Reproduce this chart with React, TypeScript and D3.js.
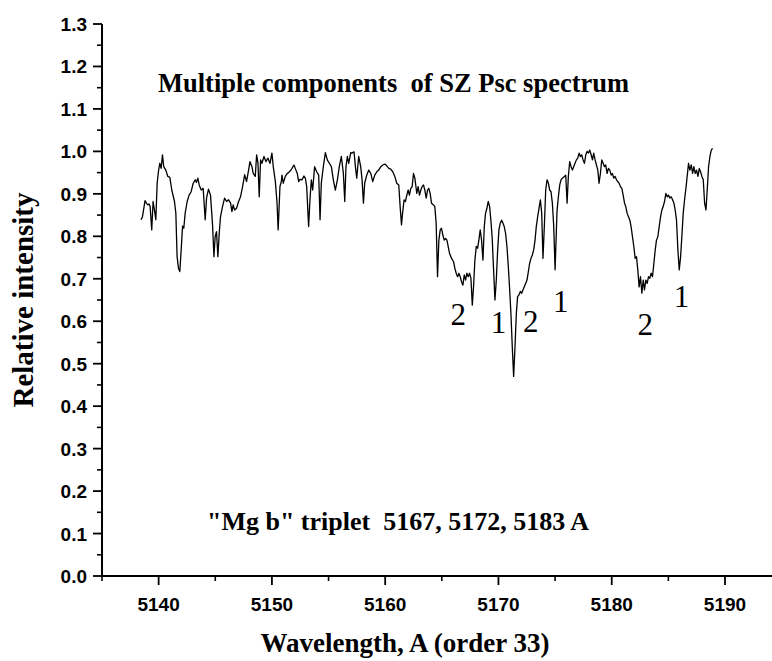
import React from "react";
import * as d3 from "d3";

const WAVELENGTH: number[] = [
  5138.45, 5138.57, 5138.80, 5138.92, 5139.04, 5139.16, 5139.25, 5139.39, 5139.51, 5139.63,
  5139.75, 5139.87, 5139.98, 5140.10, 5140.22, 5140.34, 5140.45, 5140.63, 5140.81, 5140.99,
  5141.16, 5141.40, 5141.52, 5141.63, 5141.75, 5141.87, 5141.99, 5142.11, 5142.22, 5142.34,
  5142.52, 5142.69, 5142.87, 5143.05, 5143.23, 5143.34, 5143.46, 5143.58, 5143.76, 5143.93,
  5144.11, 5144.23, 5144.40, 5144.58, 5144.76, 5144.88, 5144.99, 5145.11, 5145.23, 5145.35,
  5145.46, 5145.64, 5145.82, 5146.00, 5146.17, 5146.35, 5146.47, 5146.58, 5146.70, 5146.88,
  5147.06, 5147.23, 5147.41, 5147.59, 5147.76, 5147.94, 5148.06, 5148.24, 5148.35, 5148.53,
  5148.65, 5148.77, 5148.88, 5149.00, 5149.12, 5149.30, 5149.47, 5149.65, 5149.83, 5150.00,
  5150.12, 5150.30, 5150.45, 5150.55, 5150.71,
  5150.83, 5150.89, 5151.00, 5151.18, 5151.36, 5151.47, 5151.65, 5151.77, 5151.95, 5152.06,
  5152.24, 5152.36, 5152.48, 5152.65, 5152.83, 5152.95, 5153.07, 5153.24, 5153.36, 5153.48,
  5153.60, 5153.77, 5153.95, 5154.13, 5154.25, 5154.36, 5154.54, 5154.72, 5154.89, 5155.07,
  5155.25, 5155.42, 5155.60, 5155.78, 5155.95, 5156.13, 5156.31, 5156.43, 5156.54, 5156.66,
  5156.78, 5156.96, 5157.07, 5157.25, 5157.37, 5157.49, 5157.66, 5157.84, 5157.96, 5158.08,
  5158.19, 5158.37, 5158.55, 5158.73, 5158.90, 5159.08, 5159.26, 5159.43, 5159.61, 5159.79,
  5159.96, 5160.14, 5160.32, 5160.49, 5160.67, 5160.85, 5161.02, 5161.20, 5161.32, 5161.44,
  5161.55, 5161.67, 5161.79, 5161.91, 5162.03, 5162.14, 5162.26, 5162.38, 5162.50, 5162.62,
  5162.79, 5162.91, 5163.03, 5163.15, 5163.26, 5163.38, 5163.50, 5163.62, 5163.74, 5163.85,
  5163.97, 5164.09, 5164.27, 5164.38, 5164.50, 5164.62, 5164.74, 5164.86, 5164.97, 5165.09,
  5165.21, 5165.33, 5165.45, 5165.56, 5165.68, 5165.86, 5166.04, 5166.15, 5166.27, 5166.39,
  5166.51, 5166.62, 5166.74, 5166.86, 5166.98, 5167.10, 5167.21, 5167.33, 5167.45, 5167.57,
  5167.69, 5167.80, 5167.92, 5168.04, 5168.16, 5168.27, 5168.39, 5168.51, 5168.63, 5168.75,
  5168.86, 5168.98, 5169.10, 5169.22, 5169.34, 5169.45, 5169.57, 5169.69, 5169.81, 5169.93,
  5170.04, 5170.16, 5170.28, 5170.40, 5170.51, 5170.63, 5170.75, 5170.87, 5170.99, 5171.10,
  5171.22, 5171.34, 5171.46, 5171.58, 5171.69, 5171.81, 5171.93, 5172.05, 5172.17, 5172.28,
  5172.40, 5172.52, 5172.64, 5172.75, 5172.87, 5172.99, 5173.11, 5173.23, 5173.34, 5173.46,
  5173.58, 5173.70, 5173.82, 5173.93, 5174.05, 5174.17, 5174.29, 5174.41, 5174.52, 5174.64,
  5174.76, 5174.88, 5175.00,
  5175.17, 5175.29, 5175.41, 5175.52, 5175.64, 5175.82, 5175.94, 5176.06, 5176.17, 5176.29,
  5176.41, 5176.53, 5176.64, 5176.76, 5176.88, 5177.00, 5177.12, 5177.23, 5177.35, 5177.47,
  5177.59, 5177.71, 5177.82, 5177.94, 5178.06, 5178.18, 5178.30, 5178.41, 5178.53, 5178.65,
  5178.77, 5178.88, 5179.00, 5179.12, 5179.24, 5179.36, 5179.47, 5179.59, 5179.71, 5179.83,
  5179.95, 5180.06, 5180.18, 5180.30, 5180.42, 5180.54, 5180.65, 5180.77, 5180.89, 5181.01,
  5181.13, 5181.24, 5181.36, 5181.48, 5181.60, 5181.71, 5181.83, 5181.95, 5182.07, 5182.19,
  5182.30, 5182.42, 5182.54, 5182.66, 5182.78, 5182.89, 5183.01, 5183.13, 5183.25, 5183.36,
  5183.48, 5183.60, 5183.72, 5183.84, 5183.95, 5184.07, 5184.19, 5184.31, 5184.43, 5184.54,
  5184.66, 5184.78, 5184.90, 5185.01, 5185.13, 5185.25, 5185.37, 5185.49, 5185.60, 5185.72,
  5185.84, 5185.96, 5186.08, 5186.19, 5186.31, 5186.43, 5186.55, 5186.66, 5186.78, 5186.90,
  5187.02, 5187.14, 5187.25, 5187.37, 5187.49, 5187.61, 5187.73, 5187.84, 5187.96, 5188.08,
  5188.20, 5188.32, 5188.43, 5188.55, 5188.67, 5188.79, 5188.90,
];

const INTENSITY: number[] = [
  0.839, 0.846, 0.884, 0.878, 0.874, 0.876, 0.870, 0.815, 0.882, 0.862,
  0.839, 0.925, 0.952, 0.972, 0.960, 0.992, 0.964, 0.956, 0.941, 0.939,
  0.909, 0.882, 0.854, 0.752, 0.725, 0.717, 0.768, 0.824, 0.819, 0.854,
  0.882, 0.897, 0.905, 0.925, 0.933, 0.927, 0.937, 0.921, 0.909, 0.913,
  0.839, 0.890, 0.911, 0.897, 0.827, 0.752, 0.799, 0.811, 0.752, 0.807,
  0.846, 0.870, 0.890, 0.882, 0.886, 0.878, 0.858, 0.874, 0.862, 0.866,
  0.882, 0.893, 0.917, 0.945, 0.929, 0.956, 0.976, 0.964, 0.948, 0.941,
  0.992, 0.972, 0.893, 0.980, 0.972, 0.988, 0.976, 0.984, 0.972, 0.996,
  0.964, 0.930, 0.880, 0.815, 0.917,
  0.929, 0.944, 0.925, 0.941, 0.948, 0.950, 0.955, 0.960, 0.968, 0.960,
  0.948, 0.929, 0.934, 0.933, 0.942, 0.937, 0.917, 0.823, 0.886, 0.933,
  0.909, 0.964, 0.952, 0.944, 0.839, 0.925, 0.964, 0.997, 0.980, 0.972,
  0.964, 0.933, 0.909, 0.933, 0.964, 0.988, 0.948, 0.882, 0.964, 0.988,
  0.972, 0.997, 0.996, 0.999, 0.964, 0.937, 0.988, 0.964, 0.933, 0.878,
  0.925, 0.944, 0.956, 0.948, 0.929, 0.944, 0.952, 0.956, 0.964, 0.968,
  0.970, 0.966, 0.960, 0.958, 0.952, 0.941, 0.925, 0.921, 0.870, 0.827,
  0.858, 0.886, 0.882, 0.897, 0.909, 0.897, 0.913, 0.917, 0.948, 0.937,
  0.901, 0.917, 0.897, 0.909, 0.917, 0.921, 0.909, 0.890, 0.909, 0.913,
  0.901, 0.878, 0.874, 0.870, 0.831, 0.705, 0.791, 0.815, 0.819, 0.803,
  0.791, 0.795, 0.791, 0.776, 0.760, 0.748, 0.740, 0.725, 0.713, 0.705,
  0.713, 0.705, 0.693, 0.685, 0.709, 0.697, 0.713, 0.705, 0.713, 0.701,
  0.638, 0.681, 0.744, 0.776, 0.772, 0.791, 0.815, 0.791, 0.744, 0.823,
  0.854, 0.866, 0.882, 0.870, 0.835, 0.795, 0.721, 0.650, 0.697, 0.768,
  0.815, 0.831, 0.838, 0.831, 0.823, 0.807, 0.776, 0.729, 0.674, 0.619,
  0.540, 0.470, 0.540, 0.619, 0.658, 0.662, 0.670, 0.666, 0.674, 0.681,
  0.689, 0.697, 0.717, 0.736, 0.748, 0.756, 0.768, 0.791, 0.823, 0.846,
  0.866, 0.886, 0.854, 0.748, 0.823, 0.909, 0.933, 0.925, 0.909, 0.905,
  0.878, 0.823, 0.721,
  0.860, 0.893, 0.921, 0.933, 0.937, 0.941, 0.944, 0.878, 0.941, 0.976,
  0.964, 0.956, 0.964, 0.972, 0.980, 0.984, 0.996, 0.988, 0.992, 0.980,
  0.972, 0.992, 1.000, 0.996, 1.003, 0.992, 0.980, 0.996, 0.980, 0.968,
  0.956, 0.925, 0.948, 0.980, 0.972, 0.964, 0.968, 0.948, 0.960, 0.956,
  0.944, 0.948, 0.937, 0.941, 0.933, 0.929, 0.925, 0.917, 0.913, 0.897,
  0.878, 0.870, 0.854, 0.846, 0.838, 0.823, 0.799, 0.776, 0.748, 0.752,
  0.721, 0.681, 0.705, 0.666, 0.697, 0.674, 0.697, 0.689, 0.705, 0.701,
  0.713, 0.705, 0.736, 0.768, 0.791, 0.799, 0.823, 0.846, 0.862, 0.870,
  0.882, 0.901, 0.893, 0.897, 0.890, 0.893, 0.886, 0.878, 0.862, 0.838,
  0.768, 0.721, 0.752, 0.799, 0.854, 0.886, 0.913, 0.941, 0.972, 0.956,
  0.968, 0.948, 0.964, 0.948, 0.956, 0.941, 0.960, 0.952, 0.941, 0.933,
  0.878, 0.862, 0.909, 0.964, 0.988, 1.003, 1.007,
];

const X_TICKS: number[] = [5140, 5150, 5160, 5170, 5180, 5190];
const X_MINOR: number[] = [5135, 5145, 5155, 5165, 5175, 5185, 5195];
const Y_TICKS: number[] = [0, 0.1, 0.2, 0.3, 0.4, 0.5, 0.6, 0.7, 0.8, 0.9, 1.0, 1.1, 1.2, 1.3];
const Y_MINOR: number[] = [0.05, 0.15, 0.25, 0.35, 0.45, 0.55, 0.65, 0.75, 0.85, 0.95, 1.05, 1.15, 1.25];

const COMPONENT_LABELS: string[] = ["2", "1", "2", "1", "2", "1"];
const COMPONENT_X: number[] = [5166.45, 5170.0, 5172.85, 5175.5, 5182.95, 5186.15];
const COMPONENT_Y: number[] = [0.591, 0.573, 0.575, 0.622, 0.568, 0.634];

const TITLE = "Multiple components  of SZ Psc spectrum";
const NOTE = "\"Mg b\" triplet  5167, 5172, 5183 A";
const X_LABEL = "Wavelength, A (order 33)";
const Y_LABEL = "Relative intensity";

export default function App() {
  const W = 772;
  const H = 661;
  const x = d3.scaleLinear().domain([5135, 5190]).range([102, 725]);
  const y = d3.scaleLinear().domain([0, 1.3]).range([576, 24]);
  const pts: [number, number][] = WAVELENGTH.map((w, i) => [w, INTENSITY[i]]);
  const line = d3
    .line<[number, number]>()
    .x((d) => x(d[0]))
    .y((d) => y(d[1]));
  const serif = "'Liberation Serif', 'Times New Roman', serif";
  const sans = "'Liberation Sans', Arial, sans-serif";
  const x0 = x(5135);
  const y0 = y(0);

  return (
    <svg
      width={W}
      height={H}
      viewBox={`0 0 ${W} ${H}`}
      style={{ position: "absolute", left: 0, top: 0, background: "#fff" }}
    >
      <rect x={0} y={0} width={W} height={H} fill="#fff" />
      <line x1={x0} x2={W} y1={y0} y2={y0} stroke="#000" strokeWidth={2} />
      <line x1={x0} x2={x0} y1={y(1.3)} y2={y0} stroke="#000" strokeWidth={2} />
      {X_TICKS.map((t) => (
        <g key={"xt" + t}>
          <line x1={x(t)} x2={x(t)} y1={y0} y2={y0 + 9} stroke="#000" strokeWidth={1.8} />
          <text
            x={x(t)}
            y={y0 + 35}
            textAnchor="middle"
            fontFamily={sans}
            fontWeight="bold"
            fontSize={19}
          >
            {t}
          </text>
        </g>
      ))}
      {X_MINOR.map((t) => (
        <line key={"xm" + t} x1={x(t)} x2={x(t)} y1={y0} y2={y0 + 5} stroke="#000" strokeWidth={1.6} />
      ))}
      {Y_TICKS.map((t) => (
        <g key={"yt" + t}>
          <line x1={x0 - 9} x2={x0} y1={y(t)} y2={y(t)} stroke="#000" strokeWidth={1.8} />
          <text
            x={x0 - 15}
            y={y(t) + 7}
            textAnchor="end"
            fontFamily={sans}
            fontWeight="bold"
            fontSize={19}
          >
            {d3.format(".1f")(t)}
          </text>
        </g>
      ))}
      {Y_MINOR.map((t) => (
        <line key={"ym" + t} x1={x0 - 5} x2={x0} y1={y(t)} y2={y(t)} stroke="#000" strokeWidth={1.6} />
      ))}
      <path d={line(pts) || ""} fill="none" stroke="#000" strokeWidth={1.3} strokeLinejoin="round" />
      {COMPONENT_LABELS.map((s, i) => (
        <text
          key={"c" + i}
          x={x(COMPONENT_X[i])}
          y={y(COMPONENT_Y[i])}
          textAnchor="middle"
          fontFamily={serif}
          fontSize={31}
        >
          {s}
        </text>
      ))}
      <text x={158} y={92} fontFamily={serif} fontWeight="bold" fontSize={26.5} style={{ whiteSpace: "pre" }}>
        {TITLE}
      </text>
      <text x={207} y={530} fontFamily={serif} fontWeight="bold" fontSize={26} style={{ whiteSpace: "pre" }}>
        {NOTE}
      </text>
      <text x={405} y={652} textAnchor="middle" fontFamily={serif} fontWeight="bold" fontSize={27}>
        {X_LABEL}
      </text>
      <text
        transform={`translate(33, 300) rotate(-90)`}
        textAnchor="middle"
        fontFamily={serif}
        fontWeight="bold"
        fontSize={29}
      >
        {Y_LABEL}
      </text>
    </svg>
  );
}
